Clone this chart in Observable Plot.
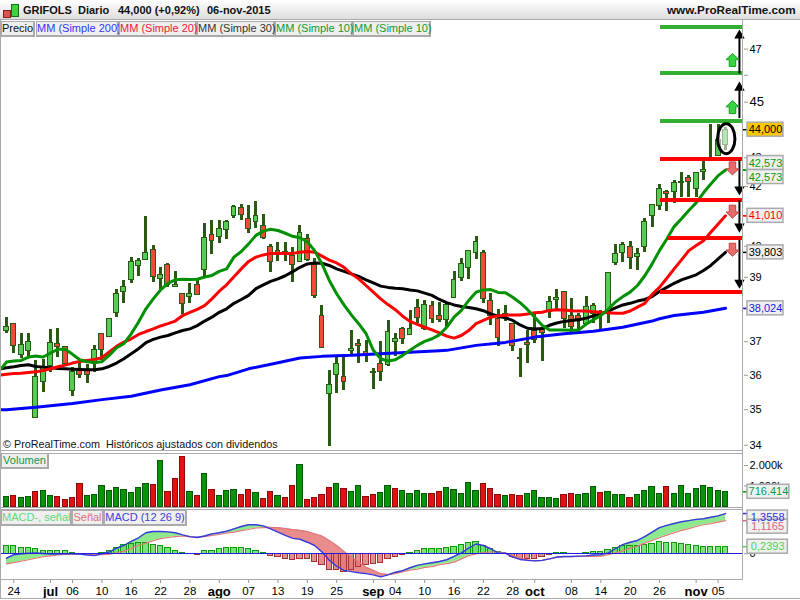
<!DOCTYPE html>
<html><head><meta charset="utf-8">
<script src="https://cdn.jsdelivr.net/npm/d3@7"></script>
<script src="https://cdn.jsdelivr.net/npm/@observablehq/plot@0.6"></script>
<style>
html,body{margin:0;padding:0;background:#fff}
#root{position:relative;width:800px;height:600px;overflow:hidden;font-family:"Liberation Sans",Arial,sans-serif}
#root svg{position:absolute;left:0;background:transparent;overflow:visible}
.h{position:absolute;z-index:5;white-space:pre}
.chip{position:absolute;z-index:5;height:13px;line-height:13px;font-size:11px;background:#efefef;border:1px solid #aaa;border-width:1px 2px 2px 1px;text-align:center;box-sizing:content-box;white-space:nowrap}
.line{position:absolute;background:#aaa;z-index:4}
</style></head><body><div id="root"></div>
<script>
const high=[37.73,37.55,37.24,37.24,36.44,36.46,37.36,37.39,36.84,36.24,36.34,36.32,36.89,37.24,37.70,38.60,38.90,39.65,39.59,40.98,40.04,39.30,39.43,39.18,38.48,38.81,38.90,40.76,40.87,40.87,40.87,41.36,41.38,41.36,41.49,41.05,40.05,40.11,40.11,39.97,40.69,40.39,39.59,38.10,36.14,36.52,36.54,37.34,37.06,37.04,36.20,37.00,37.66,37.24,37.43,37.96,38.30,38.27,38.25,38.22,38.22,39.18,39.59,39.85,40.32,39.86,38.48,38.00,38.11,37.56,36.79,37.34,37.85,37.44,38.39,38.60,38.56,38.32,37.85,38.39,38.17,37.96,39.16,40.05,40.11,40.15,39.92,40.91,41.38,42.07,41.88,42.21,42.50,42.38,42.50,42.90,44.18,44.18,44.09];
const low=[37.24,36.64,36.49,36.54,34.77,35.51,36.09,36.54,36.30,35.39,35.90,35.75,36.09,36.44,37.12,37.75,38.18,38.79,39.02,39.54,38.84,38.58,38.67,38.67,37.83,38.17,38.43,39.00,39.75,40.08,40.24,40.91,40.87,40.41,40.60,40.24,39.16,39.52,39.52,38.82,39.48,39.52,38.32,36.79,33.97,35.48,35.55,36.62,36.36,36.39,35.58,35.83,36.27,36.56,36.92,37.19,37.55,37.34,37.55,37.60,37.44,38.32,38.87,38.94,39.56,38.17,37.48,36.87,37.63,36.71,35.94,36.36,36.94,36.42,37.72,37.98,37.40,37.29,37.29,37.50,37.55,37.36,37.55,39.38,39.48,39.25,39.22,39.81,40.61,41.19,41.16,41.41,41.64,41.62,41.64,42.21,42.88,43.07,43.25];
const open=[37.32,37.55,36.59,36.72,34.77,35.79,36.26,36.92,36.84,35.55,36.14,36.12,36.34,37.22,37.14,37.87,38.53,38.92,39.35,39.56,39.88,38.95,39.40,38.68,38.46,38.39,38.76,39.24,40.37,40.32,40.54,41.01,41.28,40.91,40.82,40.68,39.97,39.86,39.81,39.70,39.50,40.24,39.38,37.78,35.46,36.01,35.94,36.72,36.94,36.69,36.06,36.34,36.29,37.00,37.39,37.21,38.03,37.40,38.09,37.78,37.65,38.34,38.98,39.30,39.79,39.79,38.24,37.68,37.80,37.55,36.47,36.97,37.34,37.36,37.90,38.29,38.54,37.78,37.78,37.53,37.86,37.85,37.86,39.45,39.77,39.97,39.64,39.97,40.99,41.33,41.81,41.80,42.11,42.29,41.92,42.51,42.88,43.07,43.45];
const close=[37.46,36.87,36.89,37.00,35.96,36.24,36.96,36.84,36.34,36.11,36.01,36.01,36.74,36.74,37.68,38.48,38.69,39.50,39.52,39.78,39.02,39.08,38.74,38.74,38.17,38.48,38.45,40.28,40.19,40.58,40.82,41.32,41.05,40.58,41.02,40.26,39.50,39.75,39.75,39.38,40.43,39.56,38.40,36.81,35.72,36.34,35.80,36.79,36.88,36.59,36.10,36.09,37.29,37.07,37.09,37.39,37.73,38.13,37.70,37.65,38.13,38.93,39.43,39.85,40.14,38.31,37.78,37.12,37.86,36.86,36.50,36.89,37.04,37.28,38.22,38.35,37.70,37.44,37.70,38.06,38.11,37.90,39.13,39.75,40.05,39.63,39.75,40.82,41.36,41.92,41.75,42.11,42.17,42.15,42.46,42.58,42.90,43.62,44.00];

const maStart=-0.75;
const ma10=[36.19,36.39,36.42,36.44,36.54,36.57,36.54,36.66,36.77,36.77,36.62,36.46,36.40,36.38,36.40,36.59,36.82,36.94,37.24,37.60,38.01,38.32,38.60,38.81,38.92,38.94,38.93,38.94,39.01,39.06,39.19,39.27,39.65,39.83,40.08,40.36,40.50,40.56,40.52,40.43,40.33,40.28,40.15,39.86,39.43,38.90,38.48,38.13,37.82,37.55,37.25,36.74,36.49,36.42,36.46,36.59,36.74,36.89,37.01,37.09,37.21,37.44,37.75,37.96,38.27,38.53,38.60,38.61,38.52,38.51,38.37,38.20,37.99,37.75,37.50,37.36,37.36,37.36,37.35,37.36,37.53,37.67,37.80,37.99,38.22,38.39,38.53,38.74,39.05,39.43,39.86,40.24,40.65,40.91,41.19,41.45,41.79,42.09,42.38,42.573];
const ma20=[36.01,36.03,36.05,36.06,36.08,36.10,36.14,36.19,36.25,36.30,36.36,36.41,36.44,36.47,36.52,36.69,36.86,36.99,37.09,37.22,37.31,37.39,37.48,37.55,37.63,37.80,37.90,37.99,38.11,38.32,38.56,38.76,39.02,39.27,39.51,39.65,39.72,39.77,39.77,39.77,39.77,39.81,39.83,39.81,39.68,39.55,39.46,39.32,39.11,38.95,38.74,38.53,38.32,38.14,37.98,37.78,37.62,37.53,37.44,37.36,37.27,37.17,37.11,37.19,37.34,37.55,37.65,37.75,37.79,37.81,37.82,37.82,37.85,37.89,37.90,37.96,37.98,37.97,37.95,37.94,37.94,37.92,37.90,37.89,37.87,37.87,37.94,38.06,38.18,38.46,38.68,38.97,39.27,39.56,39.86,40.03,40.18,40.46,40.74,41.01];
const ma30=[36.19,36.22,36.25,36.29,36.31,36.26,36.24,36.22,36.20,36.19,36.18,36.17,36.16,36.16,36.19,36.26,36.36,36.49,36.64,36.79,36.97,37.07,37.14,37.19,37.27,37.34,37.39,37.49,37.63,37.75,37.90,38.01,38.18,38.30,38.43,38.64,38.76,38.87,38.95,39.05,39.18,39.32,39.43,39.46,39.45,39.38,39.27,39.19,39.11,39.03,38.92,38.82,38.72,38.68,38.65,38.64,38.60,38.57,38.50,38.43,38.30,38.20,38.13,38.08,38.05,38.01,37.95,37.85,37.78,37.73,37.65,37.51,37.41,37.39,37.40,37.50,37.57,37.62,37.65,37.67,37.72,37.79,37.85,37.94,38.04,38.13,38.18,38.25,38.30,38.39,38.55,38.68,38.81,38.92,39.00,39.08,39.22,39.38,39.59,39.803];
const ma200Idx=[-0.75,0,4,9,13,17,21,25,29,30,33,37,40,43,47,51,55,59,60,64,68,72,76,80,84,88,89,91,95,98];
const ma200=[35.0,35.0,35.07,35.18,35.29,35.39,35.57,35.72,35.96,35.99,36.19,36.37,36.51,36.56,36.59,36.64,36.68,36.73,36.74,36.89,36.98,37.14,37.24,37.32,37.44,37.63,37.70,37.80,37.90,38.024];

const volume=[472,521,423,472,716,765,521,472,325,423,1106,521,569,1009,765,911,813,667,911,1106,1058,2229,716,1350,2424,716,521,1594,813,521,765,813,569,813,667,374,716,521,423,1009,2034,325,423,569,911,1106,862,716,1009,472,569,667,1009,862,765,618,765,618,618,716,911,813,618,1155,765,1106,862,569,521,569,521,618,765,423,423,374,569,618,569,618,960,667,716,569,569,423,569,765,960,618,960,618,1009,618,862,1009,911,765,716.414];
const volumeDir="GRGGRGGRRRRGGGGGGGGGRGRRRGRGRGGGRRGRRGRRGRRRRGRGGRRGGRGGGGRRGGGGGRRRGRRGGGGGRRGGGRGGGRGGGGRGGGGGGGG";

const macd=[-.15,-.03,0,.02,.03,.01,-.01,-.01,0,0,-.01,-.04,-.06,0,.06,.19,.28,.42,.54,.71,.75,.75,.74,.71,.64,.58,.55,.60,.67,.71,.76,.84,.92,.98,.98,.94,.84,.73,.62,.52,.49,.39,.28,.06,-.22,-.42,-.56,-.60,-.64,-.67,-.71,-.78,-.71,-.62,-.57,-.47,-.39,-.34,-.30,-.26,-.20,-.09,.03,.19,.33,.28,.17,.03,.02,-.11,-.19,-.22,-.24,-.22,-.17,-.11,-.09,-.09,-.08,-.07,-.04,-.03,.03,.17,.31,.39,.45,.58,.73,.88,.96,1.02,1.08,1.12,1.16,1.18,1.23,1.28,1.3558];
const signal=[-.34,-.30,-.25,-.20,-.15,-.10,-.07,-.04,-.02,-.01,-.01,-.02,-.03,-.03,-.01,.03,.09,.18,.28,.36,.44,.51,.55,.58,.60,.57,.56,.58,.62,.65,.70,.73,.78,.82,.87,.88,.89,.88,.85,.82,.79,.75,.67,.60,.45,.28,.08,-.11,-.28,-.45,-.56,-.67,-.70,-.67,-.60,-.55,-.52,-.46,-.43,-.37,-.33,-.28,-.17,-.06,0,.04,.06,.06,.03,-.06,-.15,-.20,-.24,-.22,-.17,-.12,-.10,-.10,-.09,-.09,-.09,-.08,-.03,.03,.10,.19,.26,.36,.45,.54,.63,.71,.79,.85,.92,.98,1.02,1.07,1.1165];
const hist=[.25,.25,.21,.21,.15,.08,.11,.11,.08,.03,.01,-.01,-.01,.03,.08,.21,.28,.34,.35,.38,.31,.25,.18,.10,.03,0,-.03,.08,.11,.15,.18,.21,.21,.15,.11,.03,-.08,-.11,-.17,-.21,-.18,-.18,-.28,-.39,-.56,-.53,-.63,-.53,-.45,-.38,-.36,-.31,-.18,-.11,-.03,.03,.10,.17,.17,.17,.20,.24,.30,.37,.40,.27,.17,.06,0,-.10,-.17,-.17,-.17,-.12,-.03,.02,.03,0,0,.02,.07,.07,.13,.21,.27,.27,.27,.30,.34,.40,.37,.37,.34,.30,.27,.24,.24,.24,.2393];

const dayTicks=[1,9,13,17,21,25,33,37,41,45,53,57,61,65,69,77,81,85,89,97];
const dayLabels=["24","06","10","16","22","28","07","13","19","25","04","10","16","22","28","08","14","20","26","05"];
const monthTicks=[6,29,50,72,94];
const monthLabels=["jul","ago","sep","oct","nov"];
const priceTicksShown=[34,35,36,37,39,40,42,43,47];
const priceTicksHidden=[38,41,46];
const priceTickBig=[45];

const greenLevels=[47.87,46.10,44.30];
const redLevels=[42.97,41.56,40.27,38.53];
const redLevelStart=[89.1,89.1,90.1,89.1];
const upArrowFrom=[46.05,44.40], upArrowTo=[47.52,45.54];
const downArrowFrom=[42.91,41.52,40.19], downArrowTo=[41.90,40.65,38.83];
const fatUp=[46.58,44.82], fatDown=[42.63,41.15,39.89];

const priceLabelValues=[44.0,42.573,42.573,41.01,39.803,38.024];
const priceLabelText=["44,000","42,573","42,573","41,010","39,803","38,024"];
const priceLabelColor=["#000","#0a9a0a","#0a9a0a","#ff0000","#000","#2020e0"];
const priceLabelFill=["#fcc800","#f0f0f0","#f0f0f0","#f0f0f0","#f0f0f0","#f0f0f0"];
const priceLabelShift=[0,-7,7,0,0,0];

const macdLabelValues=[1.3558,1.1165,0.2393];
const macdLabelText=["1,3558","1,1165","0,2393"];
const macdLabelColor=["#3030e0","#e06070","#50d050"];
const macdLabelShift=[4,6,0];

const idx=high.map((_,i)=>i);
const xScale={domain:[0,98],range:[6,725],axis:null};
const fontStyle={fontFamily:"'Liberation Sans',Arial,sans-serif",fontSize:"11px",color:"#000",background:"transparent"};
const WICK="#2a5a12";
const crisp={shapeRendering:"crispEdges"};
const root=document.getElementById("root");
function place(svg,top,z){svg.style.top=top+"px";svg.style.zIndex=z;root.appendChild(svg);return svg}

const blockArrow=dir=>({draw(c,size){const s=Math.sqrt(size/Math.PI),d=dir;
  c.moveTo(0,-d*s);c.lineTo(s,-d*0.05*s);c.lineTo(0.5*s,-d*0.05*s);c.lineTo(0.5*s,d*s);c.lineTo(-0.5*s,d*s);c.lineTo(-0.5*s,-d*0.05*s);c.lineTo(-s,-d*0.05*s);c.closePath();}});
const ellipseSym={draw(c,size){const s=Math.sqrt(size/Math.PI),a=0.58*s,b=s,k=0.5523;
  c.moveTo(0,-b);c.bezierCurveTo(k*a,-b,a,-k*b,a,0);c.bezierCurveTo(a,k*b,k*a,b,0,b);c.bezierCurveTo(-k*a,b,-a,k*b,-a,0);c.bezierCurveTo(-a,-k*b,-k*a,-b,0,-b);c.closePath();}};

const maLine=(vals,stroke,w)=>Plot.line(vals.map((_,i)=>i),{x:i=>i===0?maStart:i-1,y:i=>vals[i],stroke,strokeWidth:w,curve:"linear",strokeLinejoin:"round"});
const shifted=(shift,sel)=>function(index,scales,values,dims,ctx,next){const g=next(index,scales,values,dims,ctx);d3.select(g).selectAll(sel).each(function(_,k){const i=index[k];const t=this.getAttribute("transform")||"";this.setAttribute("transform",t+` translate(0,${shift[i]})`)});return g};
const yAxis=o=>Plot.axisY({anchor:"right",tickSize:4,tickPadding:2,fontSize:11,stroke:"#999",fill:"#000",label:null,...o});

const main=Plot.plot({width:800,height:450,marginTop:0,marginBottom:0,marginLeft:0,marginRight:57,style:fontStyle,
  x:xScale,y:{type:"log",domain:[34,47],range:[444.7,48.5],axis:null},
  marks:[
    yAxis({ticks:priceTicksShown,tickFormat:d=>String(d)}),
    yAxis({ticks:priceTickBig,tickFormat:d=>String(d),fontSize:13}),
    yAxis({ticks:priceTicksHidden,tickFormat:()=>""}),
    Plot.ruleX(idx,{x:i=>i,y1:i=>low[i],y2:i=>high[i],stroke:WICK,strokeWidth:3,...crisp}),
    Plot.rect(idx,{x1:i=>i-0.33,x2:i=>i+0.33,y1:i=>open[i],y2:i=>close[i],fill:i=>close[i]>=open[i]?"#55cc55":"#f04a3a",stroke:WICK,strokeWidth:1,...crisp}),
    Plot.line(ma200Idx.map((_,i)=>i),{x:i=>ma200Idx[i],y:i=>ma200[i],stroke:"#0000ff",strokeWidth:3}),
    maLine(ma30,"#000",3),
    maLine(ma20,"#ff0000",3),
    maLine(ma10,"#009000",3),
    Plot.ruleY(greenLevels,{y:d=>d,x1:89.1,x2:100.35,stroke:"#33b033",strokeWidth:4,...crisp}),
    Plot.ruleY(redLevels,{y:d=>d,x1:(d,i)=>redLevelStart[i],x2:100.35,stroke:"#ff0000",strokeWidth:4,...crisp}),
    Plot.ruleX(upArrowFrom,{x:99.9,y1:d=>d,y2:(d,i)=>upArrowTo[i],stroke:"#000",strokeWidth:2}),
    Plot.dot(upArrowTo,{x:99.9,y:d=>d,symbol:"triangle2",r:5,fill:"#000",stroke:"none"}),
    Plot.ruleX(downArrowFrom,{x:99.9,y1:d=>d,y2:(d,i)=>downArrowTo[i],stroke:"#000",strokeWidth:2}),
    Plot.dot(downArrowTo,{x:99.9,y:d=>d,symbol:"triangle2",rotate:180,r:5,fill:"#000",stroke:"none"}),
    Plot.dot(fatUp,{x:98.95,y:d=>d,symbol:blockArrow(1),r:6.5,fill:"#33d63f",stroke:"#159a20",strokeWidth:1}),
    Plot.dot(fatDown,{x:98.95,y:d=>d,symbol:blockArrow(-1),r:6.5,fill:"#e86a6a",stroke:"#c04545",strokeWidth:1}),
    Plot.dot([43.68],{x:98.1,y:d=>d,symbol:ellipseSym,r:15,fill:"#fff",fillOpacity:0.55,stroke:"#000",strokeWidth:3}),
    Plot.ruleY(priceLabelValues,{y:d=>d,x1:100.45,x2:101.1,stroke:(d,i)=>priceLabelColor[i],strokeWidth:1.5}),
    Plot.rect(priceLabelValues,{x1:101,x2:105.9,y1:d=>d,y2:d=>d,insetTop:-7,insetBottom:-7,fill:(d,i)=>priceLabelFill[i],stroke:"#aaa",strokeWidth:1.5,render:shifted(priceLabelShift,"rect")}),
    Plot.text(priceLabelValues,{x:103.45,y:d=>d,text:(d,i)=>priceLabelText[i],fill:(d,i)=>priceLabelColor[i],fontSize:11,textAnchor:"middle",render:shifted(priceLabelShift,"text")})
  ]});
place(main,0,1);

const vol=Plot.plot({width:800,height:56,marginTop:0,marginBottom:0,marginLeft:0,marginRight:57,style:fontStyle,
  x:xScale,y:{domain:[0,2000],range:[55,14],axis:null},
  marks:[
    yAxis({ticks:[1000,2000],tickFormat:d=>(d/1000).toFixed(0)+".000k"}),
    Plot.rect(idx,{x1:i=>i-0.36,x2:i=>i+0.36,y1:0,y2:i=>volume[i],fill:i=>volumeDir[i]==="G"?"#089408":"#e01212",stroke:i=>volumeDir[i]==="G"?"#055a05":"#8e0a0a",strokeWidth:1,...crisp}),
    Plot.ruleY([volume[98]],{y:d=>d,x1:100.45,x2:101.1,stroke:"#0a9a0a",strokeWidth:1.5}),
    Plot.rect([volume[98]],{x1:101,x2:106.7,y1:d=>d,y2:d=>d,insetTop:-7,insetBottom:-7,fill:"#f0f0f0",stroke:"#aaa",strokeWidth:1.5}),
    Plot.text([volume[98]],{x:103.85,y:d=>d,text:d=>"716.414",fill:"#0a9a50",fontSize:11,textAnchor:"middle"})
  ]});
place(vol,451,2);

const sigUp=idx.map(i=>Math.max(macd[i],signal[i])), sigDn=idx.map(i=>Math.min(macd[i],signal[i]));
const mp=Plot.plot({width:800,height:92,marginTop:0,marginBottom:21,marginLeft:0,marginRight:57,style:fontStyle,
  x:xScale,y:{domain:[-1,1.5],range:[74.97,0.8],axis:null},
  marks:[
    Plot.areaY(idx,{x:i=>i,y1:i=>signal[i],y2:i=>sigUp[i],fill:"#8ee88e",curve:"linear"}),
    Plot.areaY(idx,{x:i=>i,y1:i=>signal[i],y2:i=>sigDn[i],fill:"#e88c8c",curve:"linear"}),
    Plot.rect(idx,{x1:i=>i-0.36,x2:i=>i+0.36,y1:0,y2:i=>hist[i],filter:i=>hist[i]!==0,fill:i=>hist[i]>=0?"#66dd66":"#e07a7a",fillOpacity:0.85,stroke:i=>hist[i]>=0?"#0c9a0c":"#a83232",strokeWidth:1,...crisp}),
    Plot.line(idx,{x:i=>i,y:i=>signal[i],stroke:"#e07878",strokeWidth:1.2}),
    Plot.line(idx,{x:i=>i,y:i=>macd[i],stroke:"#3838dd",strokeWidth:1.4}),
    Plot.ruleY([0],{x1:-1,x2:100.35,stroke:"#2020e0",strokeWidth:1.3,...crisp}),
    yAxis({ticks:[0],tickFormat:()=>"0"}),
    Plot.axisX({ticks:dayTicks,tickFormat:d=>dayLabels[dayTicks.indexOf(d)],tickSize:4,tickPadding:3,fontSize:11.5,stroke:"#999",fill:"#000",label:null,anchor:"bottom"}),
    Plot.axisX({ticks:monthTicks,tickFormat:d=>monthLabels[monthTicks.indexOf(d)],tickSize:4,tickPadding:3,fontSize:13,fontWeight:"bold",stroke:"#999",fill:"#000",label:null,anchor:"bottom"}),
    Plot.ruleY(macdLabelValues,{y:d=>d,x1:100.45,x2:101.1,stroke:(d,i)=>macdLabelColor[i],strokeWidth:1.5}),
    Plot.rect(macdLabelValues,{x1:101,x2:106.5,y1:d=>d,y2:d=>d,insetTop:-7,insetBottom:-7,fill:"#f0f0f0",stroke:"#aaa",strokeWidth:1.5,render:shifted(macdLabelShift,"rect")}),
    Plot.text(macdLabelValues,{x:103.75,y:d=>d,text:(d,i)=>macdLabelText[i],fill:(d,i)=>macdLabelColor[i],fontSize:11,textAnchor:"middle",render:shifted(macdLabelShift,"text")})
  ]});
place(mp,508,3);

function html(cls,style,text){const e=document.createElement("div");e.className=cls;e.style.cssText=style;if(text!=null)e.textContent=text;root.appendChild(e);return e}
html("h","left:0;top:0;width:800px;height:19px;background:linear-gradient(#fff,#dedede);border-bottom:1px solid #aaa;z-index:4");
const hdr="top:4px;font-size:11px;font-weight:bold;color:#111;";
html("h",hdr+"left:23px","GRIFOLS");
html("h",hdr+"left:78px","Diario");
html("h",hdr+"left:118px","44,000 (+0,92%)");
html("h",hdr+"left:207px","06-nov-2015");
html("h",hdr+"left:667px;font-size:11.7px;top:3px","www.ProRealTime.com");
html("h","left:3px;top:10px;width:6px;height:6px;background:#e05050;border:1px solid #802020");
html("h","left:11px;top:4px;width:6px;height:11px;background:#40d040;border:1px solid #107010");
const chips=[["Precio",1,33,"#111"],["MM (Simple 200)",36,82,"#3535ff"],["MM (Simple 20)",119,77,"#ee2030"],["MM (Simple 30)",197,77,"#333"],["MM (Simple 10)",275,77,"#109a30"],["MM (Simple 10)",353,77,"#109a30"]];
chips.forEach(c=>html("chip",`left:${c[1]}px;top:21px;width:${c[2]-2}px;color:${c[3]}`,c[0]));
html("chip","left:1px;top:453px;width:45px;color:#0a9a50","Volumen");
html("chip","left:1px;top:510px;width:68px;color:#60d880","MACD-, señal");
html("chip","left:72px;top:510px;width:29px;color:#e07070","Señal");
html("chip","left:104px;top:510px;width:80px;color:#4040e0","MACD (12 26 9)");
html("h","left:3px;top:438px;font-size:10.8px;color:#111","© ProRealTime.com  Históricos ajustados con dividendos");
[[0,20,1,578],[742,20,1,559]].forEach(r=>html("line",`left:${r[0]}px;top:${r[1]}px;width:${r[2]}px;height:${r[3]}px`));
[[450,743],[453,743],[507,743],[509,743],[579,743],[598,800]].forEach(r=>html("line",`left:0;top:${r[0]}px;width:${r[1]}px;height:1px`));
</script></body></html>
